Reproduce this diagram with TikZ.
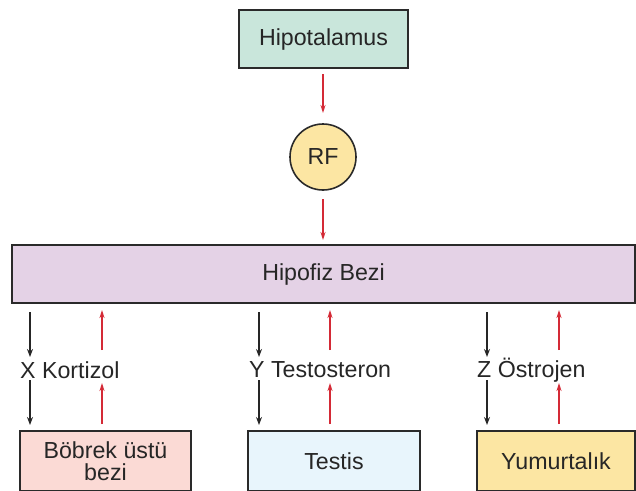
\documentclass[tikz,border=0pt]{standalone}
\usepackage{fontspec}
\setmainfont{Liberation Sans}
\usetikzlibrary{arrows.meta}
\definecolor{hypofill}{HTML}{C9E6DB}
\definecolor{rffill}{HTML}{FCE6A3}
\definecolor{pitfill}{HTML}{E4D2E6}
\definecolor{adrfill}{HTML}{FBDAD5}
\definecolor{tesfill}{HTML}{E8F5FC}
\definecolor{ovafill}{HTML}{FCE6A3}
\definecolor{hred}{HTML}{D42A36}
\definecolor{inkline}{HTML}{2A2A2A}
\tikzset{
  organ/.style={draw=inkline, line width=1.6pt, inner sep=0pt, text=black!85,
    font=\fontsize{23.2}{25}\selectfont, align=center},
  lbl/.style={inner sep=0pt, anchor=west, text=black!85, font=\fontsize{23.2}{25}\selectfont},
  fwd/.style={draw=black!85, line width=2pt, -{Stealth[length=8pt,width=6pt]}},
  back/.style={draw=hred, line width=1.5pt, -{Stealth[length=8pt,width=5pt]}}
}
\begin{document}
\begin{tikzpicture}[x=1pt,y=-1pt]
\useasboundingbox (0,0) rectangle (636,490);
% upper chain
\node[organ, fill=hypofill, minimum width=169pt, minimum height=58pt] (hyp) at (323.5,39) {Hipotalamus};
\node[organ, circle, fill=rffill, minimum size=66pt] (rf) at (323,157) {RF};
\node[organ, fill=pitfill, minimum width=623pt, minimum height=58pt] (pit) at (323.5,274) {Hipofiz Bezi};
\coordinate (h1) at (323,74); \coordinate (h2) at (323,113);
\coordinate (r1) at (323,199); \coordinate (r2) at (323,240);
\draw[back] (h1) -- (h2);
\draw[back] (r1) -- (r2);
% target glands
\node[organ, fill=adrfill, minimum width=171pt, minimum height=60pt] (adr) at (105.5,461) {Böbrek üstü\\[-3pt]bezi};
\node[organ, fill=tesfill, minimum width=172pt, minimum height=60pt] (tes) at (334,461) {Testis};
\node[organ, fill=ovafill, minimum width=158pt, minimum height=60pt] (ova) at (556,461) {Yumurtalık};
% hormone labels
\node[lbl] (x) at (20,370) {X Kortizol};
\node[lbl] (y) at (249,370) {Y Testosteron};
\node[lbl] (z) at (477,370) {Z Östrojen};
% axis arrows, one column per gland
\foreach \n/\bx/\rx in {a/30/102, b/259/330, c/487/559}{
  \coordinate (\n k1) at (\bx,312); \coordinate (\n k2) at (\bx,357);
  \coordinate (\n k3) at (\bx,380); \coordinate (\n k4) at (\bx,425);
  \coordinate (\n r1) at (\rx,350); \coordinate (\n r2) at (\rx,310);
  \coordinate (\n r3) at (\rx,424); \coordinate (\n r4) at (\rx,383);
  \draw[fwd] (\n k1) -- (\n k2);
  \draw[fwd] (\n k3) -- (\n k4);
  \draw[back] (\n r1) -- (\n r2);
  \draw[back] (\n r3) -- (\n r4);
}
\end{tikzpicture}
\end{document}
